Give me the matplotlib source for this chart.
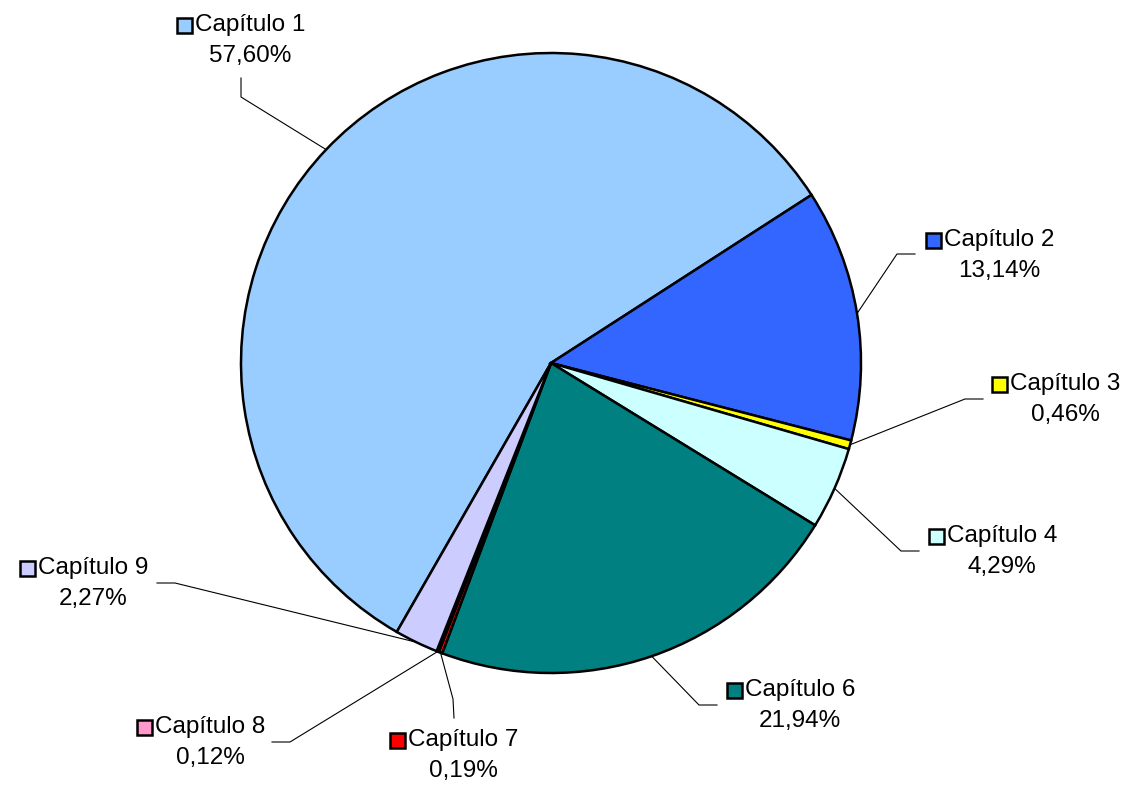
import numpy as np
import matplotlib
matplotlib.use("Agg")
import matplotlib.pyplot as plt
from matplotlib.patches import Rectangle

W, H = 1129, 786

labels = ["Capítulo 1", "Capítulo 2", "Capítulo 3", "Capítulo 4",
          "Capítulo 6", "Capítulo 7", "Capítulo 8", "Capítulo 9"]
percent = [57.60, 13.14, 0.46, 4.29, 21.94, 0.19, 0.12, 2.27]
colors = ["#99CCFF", "#3366FF", "#FFFF00", "#CCFFFF",
          "#008080", "#FF0000", "#FF99CC", "#CCCCFF"]

# label layout in pixel coords: text centre x, first line y, leader end, leader elbow
label_pos = [(250, 25), (999, 240), (1065, 384), (1002, 536),
             (800, 690), (463, 740), (210, 727), (93, 568)]
leader_end = [(241, 78), (915, 254), (983, 399), (919, 551),
              (717, 705), (454, 718), (272, 742), (157, 583)]
leader_elbow = [(241, 97), (897, 254), (965, 399), (901, 551),
                (699, 705), (453, 699), (290, 742), (175, 583)]

center_px = (551, 363)
radius = 310

plt.rcParams['font.family'] = ['Liberation Sans', 'DejaVu Sans']

fig = plt.figure(figsize=(W / 100, H / 100), dpi=100)
ax = fig.add_axes([0, 0, 1, 1])


def px(x, y):
    return x, H - y


cx, cy = px(*center_px)
wedges, _ = ax.pie(percent, colors=colors, startangle=240.17, counterclock=False,
                   center=(cx, cy), radius=radius,
                   wedgeprops=dict(edgecolor="black", linewidth=1.8))
ax.set_xlim(0, W)
ax.set_ylim(0, H)
ax.set_aspect("equal")
ax.axis("off")

fig.canvas.draw()
renderer = fig.canvas.get_renderer()

for i, w in enumerate(wedges):
    mid = np.deg2rad((w.theta1 + w.theta2) / 2)
    sx = cx + radius * np.cos(mid)
    sy = cy + radius * np.sin(mid)
    ex, ey = px(*leader_end[i])
    bx, by = px(*leader_elbow[i])
    ax.plot([sx, bx, ex], [sy, by, ey], color="black", lw=0.8, zorder=1)

    tx, ty = px(*label_pos[i])
    t = ax.text(tx, ty, labels[i], ha="center", va="center", fontsize=17.5)
    ax.text(tx, ty - 31, f"{percent[i]:.2f}".replace(".", ",") + "%",
            ha="center", va="center", fontsize=17.5)
    bb = t.get_window_extent(renderer)
    left = bb.x0 * W / fig.bbox.width
    sq = 15
    ax.add_patch(Rectangle((left - 3 - sq, ty - sq / 2), sq, sq,
                           facecolor=colors[i], edgecolor="black", lw=1.8))

fig.savefig("out.png", dpi=100)
